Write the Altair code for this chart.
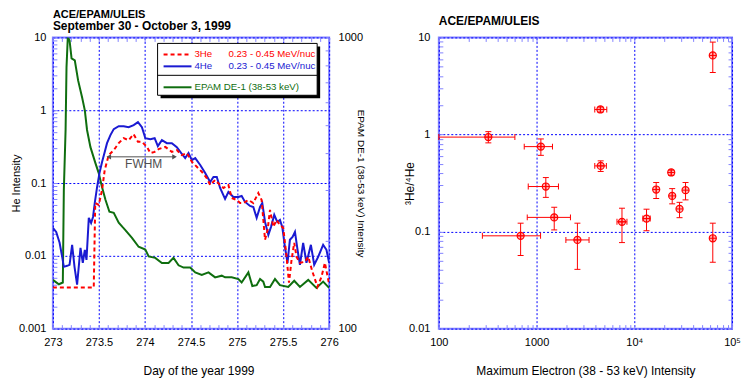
import altair as alt
import pandas as pd

RED = "#ff0000"
BLUE = "#1a1ad2"
GREEN = "#0f6e0f"
FRAME = "#8484ff"
GRID = "#0000ff"
GRAY = "#505050"
FONT = "Liberation Sans"

W1, H1 = 277, 292
W2, H2 = 294, 292

# ---------------- left panel data ----------------
he3_day = [273.0, 273.444, 273.46, 273.498, 273.534, 273.563, 273.606, 273.661, 273.715, 273.769,
           273.823, 273.877, 273.924, 273.967, 274.021, 274.058, 274.105, 274.148, 274.221, 274.292,
           274.346, 274.4, 274.455, 274.509, 274.563, 274.617, 274.671, 274.708, 274.762, 274.816,
           274.852, 274.906, 274.942, 274.996, 275.033, 275.069, 275.123, 275.177, 275.231, 275.267,
           275.304, 275.332, 275.358, 275.394, 275.429, 275.466, 275.502, 275.538, 275.564, 275.592,
           275.621, 275.646, 275.683, 275.737, 275.773, 275.819, 275.873, 275.917, 275.954, 275.997]
he3_val = [0.00368, 0.00368, 0.0532, 0.050, 0.080, 0.151, 0.242, 0.283, 0.353, 0.413,
           0.388, 0.469, 0.368, 0.368, 0.314, 0.258, 0.268, 0.292, 0.314, 0.268,
           0.283, 0.242, 0.258, 0.196, 0.167, 0.143, 0.117, 0.094, 0.110, 0.094,
           0.0855, 0.094, 0.0624, 0.0585, 0.0532, 0.0532, 0.0585, 0.0532, 0.073, 0.0585,
           0.0166, 0.0227, 0.0427, 0.025, 0.0311, 0.0266, 0.0242, 0.00968, 0.00427, 0.00881,
           0.0151, 0.00968, 0.00802, 0.00828, 0.00968, 0.00604, 0.00376, 0.00515, 0.00802, 0.00427]

he4_day = [273.0, 273.036, 273.073, 273.101, 273.119, 273.155, 273.181, 273.209, 273.235, 273.263,
           273.3, 273.325, 273.347, 273.365, 273.39, 273.415, 273.436, 273.455, 273.48, 273.506,
           273.534, 273.563, 273.588, 273.625, 273.661, 273.715, 273.769, 273.823, 273.877, 273.924,
           273.967, 274.004, 274.058, 274.105, 274.14, 274.184, 274.238, 274.292, 274.346, 274.394,
           274.437, 274.473, 274.509, 274.546, 274.6, 274.654, 274.708, 274.744, 274.78, 274.816,
           274.87, 274.906, 274.96, 275.015, 275.05, 275.087, 275.141, 275.177, 275.213, 275.25,
           275.274, 275.304, 275.34, 275.369, 275.404, 275.437, 275.466, 275.491, 275.52, 275.548,
           275.574, 275.603, 275.629, 275.657, 275.683, 275.718, 275.754, 275.802, 275.838, 275.881,
           275.935, 275.971, 276.0]
he4_val = [0.0242, 0.0213, 0.0151, 0.00968, 0.00706, 0.00729, 0.00753, 0.01416, 0.00706, 0.00401,
           0.0129, 0.00802, 0.0121, 0.00881, 0.0332, 0.0283, 0.0342, 0.0532, 0.0881, 0.137,
           0.194, 0.266, 0.353, 0.455, 0.550, 0.604, 0.604, 0.585, 0.624, 0.686,
           0.585, 0.413, 0.401, 0.413, 0.321, 0.388, 0.353, 0.353, 0.311, 0.258,
           0.220, 0.258, 0.206, 0.220, 0.177, 0.137, 0.103, 0.121, 0.121, 0.0855,
           0.0604, 0.0753, 0.0643, 0.0643, 0.0664, 0.0550, 0.0484, 0.0469, 0.0332, 0.0469,
           0.0532, 0.0292, 0.0194, 0.0250, 0.0365, 0.0292, 0.0311, 0.0250, 0.0133, 0.00802,
           0.0166, 0.0182, 0.0213, 0.0121, 0.00753, 0.0151, 0.00802, 0.01416, 0.00753, 0.00968,
           0.01416, 0.0121, 0.00802]

epam_day = [273.0, 273.065, 273.108, 273.119, 273.138, 273.148, 273.162, 273.181, 273.203, 273.238,
            273.274, 273.317, 273.347, 273.371, 273.408, 273.462, 273.498, 273.534, 273.571, 273.614,
            273.661, 273.715, 273.758, 273.787, 273.859, 273.931, 274.004, 274.04, 274.112, 274.184,
            274.256, 274.31, 274.365, 274.419, 274.491, 274.546, 274.617, 274.69, 274.762, 274.834,
            274.87, 274.942, 275.015, 275.05, 275.123, 275.166, 275.213, 275.25, 275.285, 275.304,
            275.358, 275.412, 275.466, 275.556, 275.621, 275.683, 275.773, 275.862, 275.935, 276.0]
epam_val = [147, 142, 144, 299, 481, 789, 1000, 977, 847, 834,
            712, 623, 562, 481, 420, 370, 342, 306, 277, 252,
            250, 231, 223, 218, 205, 191, 187, 177, 175, 168,
            168, 175, 165, 162, 162, 156, 153, 156, 150, 152,
            150, 150, 148, 144, 156, 140, 141, 148, 145, 139,
            139, 148, 141, 139, 146, 139, 147, 138, 145, 138]

fwhm_day = [273.607, 274.321]
fwhm_val = [0.229, 0.229]
fwhm_dir = ["left", "right"]
fwhm_text_day = [273.986]
fwhm_text_val = [0.182]
fwhm_text = ["FWHM"]

legend_names = ["3He", "4He", "EPAM DE-1 (38-53 keV)"]
legend_ranges = ["0.23 - 0.45 MeV/nuc", "0.23 - 0.45 MeV/nuc", ""]
legend_colors = [RED, BLUE, GREEN]
legend_dashes = [[4, 3], None, None]
LEGEND_Y = [17, 29, 50]

day_major = [273, 273.5, 274, 274.5, 275, 275.5, 276]
he_major = [0.001, 0.01, 0.1, 1, 10]
day_ticks = [round(273 + 0.1 * i, 1) for i in range(31)]
he_ticks = [round(m * 10.0 ** p, 6) for p in range(-3, 1) for m in range(1, 10)] + [10.0]
epam_ticks = [100 * m for m in range(1, 11)]

# ---------------- right panel data ----------------
e_max = [321, 1107, 4530, 1244, 1516, 687, 2618, 7480, 13340, 16750, 23870, 24430, 29030, 33440, 63550, 63550, 4500]
ratio = [0.94, 0.75, 0.475, 0.291, 0.140, 0.0904, 0.082, 0.126, 0.136, 0.271, 0.406, 0.233, 0.171, 0.267, 0.0853, 6.52, 1.81]
e_lo = [100, 748, 3940, 822, 803, 279, 1995, 6650, 12240, 16750, 23870, 24430, 29030, 33440, 63550, 63550, 3940]
e_hi = [600, 1455, 5180, 1675, 2222, 1099, 3444, 8410, 14550, 16750, 23870, 24430, 29030, 33440, 63550, 63550, 5230]
r_lo = [0.82, 0.61, 0.416, 0.225, 0.104, 0.0567, 0.0408, 0.077, 0.102, 0.219, 0.38, 0.193, 0.139, 0.212, 0.0483, 4.35, 1.70]
r_hi = [1.07, 0.90, 0.535, 0.36, 0.178, 0.122, 0.122, 0.174, 0.17, 0.32, 0.43, 0.277, 0.20, 0.32, 0.122, 8.95, 1.92]

e_major = [100, 1000, 10000, 100000]
r_major = [0.01, 0.1, 1, 10]
e_ticks = [m * 10 ** p for p in range(2, 5) for m in range(1, 10)] + [100000]
r_ticks = [round(m * 10.0 ** p, 6) for p in range(-2, 1) for m in range(1, 10)] + [10.0]

# ---------------- helpers ----------------
def tick_axis(orient, values, offset):
    return alt.Axis(orient=orient, values=values, offset=offset, labels=False,
                    ticks=True, tickSize=4, tickColor=FRAME, tickWidth=1,
                    domain=False, grid=False, title=None)


def grid_axis(**kw):
    base = dict(ticks=False, domain=False, grid=True, gridColor=GRID, gridDash=[2, 2],
                gridWidth=1, gridOpacity=1, labelFlush=False, labelOverlap=False)
    base.update(kw)
    return alt.Axis(**base)


X_DAY = alt.Scale(domain=[273, 276], nice=False, zero=False)
Y_HE = alt.Scale(type="log", domain=[0.001, 10], nice=False)
Y_EP = alt.Scale(type="log", domain=[100, 1000], nice=False)

df_he3 = pd.DataFrame({"day": he3_day, "he": he3_val})
df_he4 = pd.DataFrame({"day": he4_day, "he": he4_val})
df_ep = pd.DataFrame({"day": epam_day, "epam": epam_val})
df_fw = pd.DataFrame({"day": fwhm_day, "he": fwhm_val, "dir": fwhm_dir})
df_fwt = pd.DataFrame({"day": fwhm_text_day, "he": fwhm_text_val, "label": fwhm_text})
one = pd.DataFrame({"k": [0]})

x_day_main = grid_axis(orient="bottom", values=day_major, format="~g", labelPadding=8,
                       title="Day of the year 1999", titlePadding=18, titleX=146)
y_he_main = grid_axis(orient="left", values=he_major, format="~g", labelPadding=7,
                      title="He Intensity", titleX=-33, titleBaseline="alphabetic", titleFontSize=11)
y_ep_main = alt.Axis(orient="right", values=[100, 1000], format="d", ticks=False, domain=False,
                     grid=False, labelPadding=9, labelFlush=False, labelOverlap=False,
                     title="EPAM DE-1 (38-53 keV) Intensity", titleX=28, titleFontSize=10,
                     titleBaseline="alphabetic", titleAngle=90)

green = alt.Chart(df_ep).mark_line(color=GREEN, strokeWidth=2, clip=True).encode(
    x=alt.X("day:Q", scale=X_DAY, axis=None),
    y=alt.Y("epam:Q", scale=Y_EP, axis=y_ep_main))
blue = alt.Chart(df_he4).mark_line(color=BLUE, strokeWidth=2, clip=True).encode(
    x=alt.X("day:Q", scale=X_DAY, axis=None),
    y=alt.Y("he:Q", scale=Y_HE, axis=None))
red = alt.Chart(df_he3).mark_line(color=RED, strokeWidth=2, strokeDash=[4, 3], clip=True).encode(
    x=alt.X("day:Q", scale=X_DAY, axis=x_day_main),
    y=alt.Y("he:Q", scale=Y_HE, axis=y_he_main))

ticks_a = alt.Chart(df_he4).mark_line(opacity=0).encode(
    x=alt.X("day:Q", scale=X_DAY, axis=tick_axis("top", day_ticks, -H1)),
    y=alt.Y("he:Q", scale=Y_HE, axis=tick_axis("right", he_ticks, -W1)))
ticks_b = alt.Chart(df_ep).mark_line(opacity=0).encode(
    x=alt.X("day:Q", scale=X_DAY, axis=tick_axis("bottom", day_ticks, -H1)),
    y=alt.Y("epam:Q", scale=Y_EP, axis=tick_axis("left", epam_ticks, -W1)))

fw_line = alt.Chart(df_fw).mark_line(color=GRAY, strokeWidth=1).encode(
    x=alt.X("day:Q", scale=X_DAY, axis=None),
    y=alt.Y("he:Q", scale=Y_HE, axis=None))
fw_heads = alt.Chart(df_fw).mark_point(filled=True, color=GRAY, size=28, opacity=1).encode(
    x=alt.X("day:Q", scale=X_DAY, axis=None),
    y=alt.Y("he:Q", scale=Y_HE, axis=None),
    shape=alt.Shape("dir:N", scale=alt.Scale(domain=["left", "right"],
                                             range=["triangle-left", "triangle-right"]), legend=None))
fw_text = alt.Chart(df_fwt).mark_text(color=GRAY, fontSize=12, font=FONT, baseline="middle").encode(
    x=alt.X("day:Q", scale=X_DAY, axis=None),
    y=alt.Y("he:Q", scale=Y_HE, axis=None),
    text="label:N")

shadow = alt.Chart(one).mark_rect(fill="black").encode(
    x=alt.value(108), x2=alt.value(268), y=alt.value(9), y2=alt.value(61))
box = alt.Chart(one).mark_rect(fill="white", stroke="black", strokeWidth=1).encode(
    x=alt.value(105), x2=alt.value(265), y=alt.value(6), y2=alt.value(58))
sep = alt.Chart(one).mark_rule(color="black", strokeWidth=1).encode(
    x=alt.value(105), x2=alt.value(265), y=alt.value(38))

legend_layers = [shadow, box, sep]
for name, rng, col, dash, yy in zip(legend_names, legend_ranges, legend_colors, legend_dashes, LEGEND_Y):
    if dash:
        ln = alt.Chart(one).mark_rule(color=col, strokeWidth=2, strokeDash=dash)
    else:
        ln = alt.Chart(one).mark_rule(color=col, strokeWidth=2)
    legend_layers.append(ln.encode(x=alt.value(111), x2=alt.value(139), y=alt.value(yy)))
    legend_layers.append(alt.Chart(one).mark_text(align="left", baseline="middle", color=col,
                                                  fontSize=9.7, font=FONT).encode(
        x=alt.value(142), y=alt.value(yy), text=alt.value(name)))
    if rng:
        legend_layers.append(alt.Chart(one).mark_text(align="left", baseline="middle", color=col,
                                                      fontSize=9.7, font=FONT).encode(
            x=alt.value(176), y=alt.value(yy), text=alt.value(rng)))

left = alt.layer(ticks_a, ticks_b, green, blue, red, fw_line, fw_heads, fw_text, *legend_layers).resolve_scale(
    x="independent", y="independent").properties(
    width=W1, height=H1,
    title=alt.TitleParams(text="ACE/EPAM/ULEIS", subtitle="September 30 - October 3, 1999",
                          fontSize=11, subtitleFont=FONT, subtitleFontSize=12,
                          subtitleFontWeight="bold", subtitleColor="black", subtitlePadding=1,
                          anchor="start", frame="group", offset=-1))

# ---------------- right panel ----------------
X_E = alt.Scale(type="log", domain=[100, 100000], nice=False)
Y_R = alt.Scale(type="log", domain=[0.01, 10], nice=False)
df_pts = pd.DataFrame({"e": e_max, "r": ratio, "elo": e_lo, "ehi": e_hi, "rlo": r_lo, "rhi": r_hi})

x_e_main = grid_axis(orient="bottom", values=e_major,
                     labelExpr="datum.value == 10000 ? '10\u2074' : datum.value == 100000 ? '10\u2075' : format(datum.value, 'd')",
                     labelPadding=8, title="Maximum Electron (38 - 53 keV) Intensity", titlePadding=18)
y_r_main = grid_axis(orient="left", values=r_major, format="~g", labelPadding=9,
                     title="\u00b3He/\u2074He", titleX=-25, titleBaseline="alphabetic")

circles = alt.Chart(df_pts).mark_point(shape="circle", filled=True, fill="#ffb4b4", stroke=RED,
                                       strokeWidth=1.2, size=50, opacity=1).encode(
    x=alt.X("e:Q", scale=X_E, axis=x_e_main),
    y=alt.Y("r:Q", scale=Y_R, axis=y_r_main))
xerr = alt.Chart(df_pts).transform_filter("datum.ehi > datum.elo").mark_rule(color=RED, strokeWidth=1).encode(
    x=alt.X("elo:Q", scale=X_E, axis=None), x2="ehi:Q",
    y=alt.Y("r:Q", scale=Y_R, axis=None))
xcap_lo = alt.Chart(df_pts).transform_filter("datum.ehi > datum.elo").mark_tick(
    orient="vertical", size=6, thickness=1, color=RED, opacity=1).encode(
    x=alt.X("elo:Q", scale=X_E, axis=None), y=alt.Y("r:Q", scale=Y_R, axis=None))
xcap_hi = alt.Chart(df_pts).transform_filter("datum.ehi > datum.elo").mark_tick(
    orient="vertical", size=6, thickness=1, color=RED, opacity=1).encode(
    x=alt.X("ehi:Q", scale=X_E, axis=None), y=alt.Y("r:Q", scale=Y_R, axis=None))
yerr = alt.Chart(df_pts).mark_rule(color=RED, strokeWidth=1).encode(
    x=alt.X("e:Q", scale=X_E, axis=None),
    y=alt.Y("rlo:Q", scale=Y_R, axis=None), y2="rhi:Q")
ycap_lo = alt.Chart(df_pts).mark_tick(orient="horizontal", size=6, thickness=1, color=RED, opacity=1).encode(
    x=alt.X("e:Q", scale=X_E, axis=None), y=alt.Y("rlo:Q", scale=Y_R, axis=None))
ycap_hi = alt.Chart(df_pts).mark_tick(orient="horizontal", size=6, thickness=1, color=RED, opacity=1).encode(
    x=alt.X("e:Q", scale=X_E, axis=None), y=alt.Y("rhi:Q", scale=Y_R, axis=None))
crosses = alt.Chart(df_pts).mark_point(shape="M-1,0L1,0M0,-1L0,1", filled=False, stroke=RED,
                                       strokeWidth=1, size=50, opacity=1).encode(
    x=alt.X("e:Q", scale=X_E, axis=None), y=alt.Y("r:Q", scale=Y_R, axis=None))

rt_a = alt.Chart(df_pts).mark_point(opacity=0).encode(
    x=alt.X("e:Q", scale=X_E, axis=tick_axis("top", e_ticks, -H2)),
    y=alt.Y("r:Q", scale=Y_R, axis=tick_axis("right", r_ticks, -W2)))
rt_b = alt.Chart(df_pts).mark_point(opacity=0).encode(
    x=alt.X("e:Q", scale=X_E, axis=tick_axis("bottom", e_ticks, -H2)),
    y=alt.Y("r:Q", scale=Y_R, axis=tick_axis("left", r_ticks, -W2)))

right = alt.layer(rt_a, rt_b, circles, xerr, xcap_lo, xcap_hi, yerr, ycap_lo, ycap_hi, crosses).resolve_scale(
    x="independent", y="independent").properties(
    width=W2, height=H2,
    title=alt.TitleParams(text="ACE/EPAM/ULEIS", fontSize=12, anchor="start", frame="group", offset=3))

chart = alt.hconcat(left, right, spacing=37).properties(
    padding={"left": 2, "top": 0, "right": 0, "bottom": 0}
).configure_view(stroke=FRAME, strokeWidth=2).configure_axis(
    labelFont=FONT, labelFontSize=11, labelColor="black",
    titleFont=FONT, titleFontSize=12, titleFontWeight="normal", titleColor="black"
).configure_title(font=FONT, fontSize=11, fontWeight="bold", anchor="start", color="black")

chart.save("out.html", embed_options={"renderer": "svg", "actions": False})
